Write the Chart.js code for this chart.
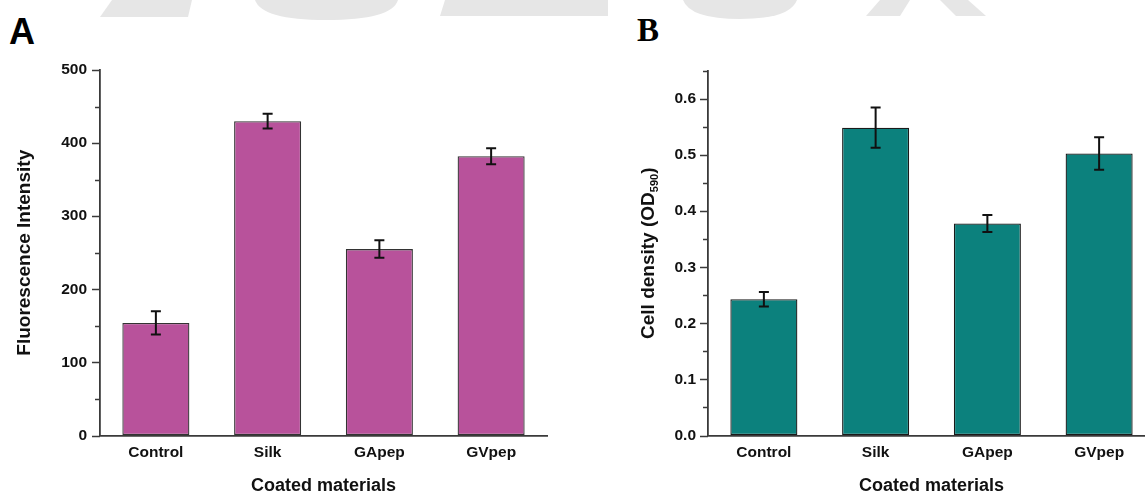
<!DOCTYPE html>
<html>
<head>
<meta charset="utf-8">
<script src="https://cdn.jsdelivr.net/npm/chart.js@4.4.1/dist/chart.umd.min.js"></script>
<style>
  html, body { margin: 0; padding: 0; background: #fff; overflow: hidden; width: 1145px; height: 495px; }
  .panel { position: absolute; top: 0; }
  .letter { position: absolute; color: #000; font-weight: bold; }
  #wm { position: absolute; left: 0; top: 0; }
</style>
</head>
<body>
<svg id="wm" width="1145" height="22">
  <!-- faint watermark remains along the top edge -->
  <g fill="#e6e6e6">
    <polygon points="112,0 192,0 188,17 100,17"/>
    <path d="M255,0 L398,0 Q392,20 326,20 Q262,20 255,0 Z"/>
    <polygon points="445,0 608,0 608,16 440,16"/>
    <path d="M683,0 L797,0 Q790,19 740,19 Q690,19 683,0 Z"/>
    <polygon points="880,0 910,0 900,16 866,16"/>
    <polygon points="940,0 968,0 986,16 956,16"/>
  </g>
</svg>
<div class="letter" style="left:9px; top:11px; font-family:'Liberation Sans', Arial, sans-serif; font-size:36px;">A</div>
<div class="letter" style="left:637px; top:12px; font-family:'Liberation Serif', 'Times New Roman', serif; font-size:33px;">B</div>
<canvas class="panel" id="chartA" width="560" height="495" style="left:0px;"></canvas>
<canvas class="panel" id="chartB" width="570" height="495" style="left:600px;"></canvas>
<script>
const categories = ["Control", "Silk", "GApep", "GVpep"];

// panel A: fluorescence intensity
const fluorescence = [154, 430, 255, 382];
const fluorescenceErr = [16, 10, 12, 11];

// panel B: cell density (OD590)
const cellDensity = [0.243, 0.549, 0.378, 0.503];
const cellDensityErr = [0.013, 0.036, 0.015, 0.029];

const FONT = "'Liberation Sans', Arial, sans-serif";
const AXIS = "#3a3a3a";

// error bars drawn from the bar values through the y scale
const errorBars = {
  id: "errorBars",
  afterDatasetsDraw(chart, args, opts) {
    const ctx = chart.ctx;
    const yScale = chart.scales.y;
    const values = chart.data.datasets[0].data;
    ctx.save();
    ctx.strokeStyle = "#111";
    ctx.lineWidth = 2;
    chart.getDatasetMeta(0).data.forEach((bar, i) => {
      const top = yScale.getPixelForValue(values[i] + opts.errors[i]);
      const bottom = yScale.getPixelForValue(values[i] - opts.errors[i]);
      ctx.beginPath();
      ctx.moveTo(bar.x, top);
      ctx.lineTo(bar.x, bottom);
      ctx.moveTo(bar.x - 5, top);
      ctx.lineTo(bar.x + 5, top);
      ctx.moveTo(bar.x - 5, bottom);
      ctx.lineTo(bar.x + 5, bottom);
      ctx.stroke();
    });
    ctx.restore();
  },
};

// outward major / minor tick marks on the y axis
const yTickMarks = {
  id: "yTickMarks",
  afterDraw(chart, args, opts) {
    const ctx = chart.ctx;
    const yScale = chart.scales.y;
    const x = chart.chartArea.left;
    ctx.save();
    ctx.strokeStyle = AXIS;
    ctx.lineWidth = 1.5;
    yScale.ticks.forEach((t) => {
      const major = Math.abs(t.value / opts.major - Math.round(t.value / opts.major)) < 1e-6;
      const len = major ? 8 : 5;
      const y = Math.round(yScale.getPixelForValue(t.value)) + 0.5;
      ctx.beginPath();
      ctx.moveTo(x - len, y);
      ctx.lineTo(x, y);
      ctx.stroke();
    });
    ctx.restore();
  },
};

// y title with a subscript, for panel B
const subTitle = {
  id: "subTitle",
  afterDraw(chart, args, opts) {
    if (!opts.text) return;
    const ctx = chart.ctx;
    const area = chart.chartArea;
    const big = "bold 19px " + FONT;
    const small = "bold 11px " + FONT;
    ctx.save();
    ctx.font = big;
    const w1 = ctx.measureText(opts.text).width;
    const w3 = ctx.measureText(")").width;
    ctx.font = small;
    const w2 = ctx.measureText(opts.sub).width;
    const total = w1 + w2 + w3;
    ctx.translate(opts.x, (area.top + area.bottom) / 2);
    ctx.rotate(-Math.PI / 2);
    ctx.fillStyle = "#111";
    ctx.textBaseline = "alphabetic";
    ctx.textAlign = "left";
    let pos = -total / 2;
    ctx.font = big;
    ctx.fillText(opts.text, pos, 7);
    pos += w1;
    ctx.font = small;
    ctx.fillText(opts.sub, pos, 11);
    pos += w2;
    ctx.font = big;
    ctx.fillText(")", pos, 7);
    ctx.restore();
  },
};

function makeChart(id, values, errors, opts) {
  return new Chart(document.getElementById(id), {
    type: "bar",
    plugins: [errorBars, yTickMarks, subTitle],
    data: {
      labels: categories,
      datasets: [
        {
          data: values,
          backgroundColor: opts.color,
          borderColor: opts.border,
          borderWidth: 1.3,
          borderSkipped: false,
          barPercentage: 0.6,
          categoryPercentage: 1,
        },
      ],
    },
    options: {
      responsive: false,
      animation: false,
      layout: { padding: { top: opts.top, right: opts.right, bottom: 0, left: 0 } },
      plugins: {
        legend: { display: false },
        tooltip: { enabled: false },
        errorBars: { errors: errors },
        yTickMarks: { major: opts.major },
        subTitle: opts.subTitle || {},
      },
      scales: {
        x: {
          afterFit: (scale) => { scale.height = 59.5; },
          grid: { display: true, drawOnChartArea: false, drawTicks: false },
          border: { display: true, color: AXIS, width: 1.8 },
          ticks: { color: "#111", padding: 8, font: { family: FONT, size: 15.5, weight: "bold" } },
          title: {
            display: true,
            text: "Coated materials",
            color: "#111",
            padding: { top: 0, bottom: 0 },
            font: { family: FONT, size: 18, weight: "bold", lineHeight: 1 },
          },
        },
        y: {
          min: 0,
          max: opts.max,
          afterFit: (scale) => { scale.width = opts.axisWidth; },
          grid: { display: true, drawOnChartArea: false, drawTicks: false },
          border: { display: true, color: AXIS, width: 1.8 },
          ticks: {
            stepSize: opts.minor,
            color: "#111",
            padding: opts.tickPad,
            font: { family: FONT, size: 15.5, weight: "bold" },
            callback: (v) => {
              const r = v / opts.major;
              if (Math.abs(r - Math.round(r)) > 1e-6) return "";
              return opts.decimals ? Number(v).toFixed(opts.decimals) : String(Math.round(v));
            },
          },
          title: {
            display: !!opts.yTitle,
            text: opts.yTitle || "",
            color: "#111",
            padding: { top: 15.5, bottom: 0 },
            font: { family: FONT, size: 19, weight: "bold", lineHeight: 1 },
          },
        },
      },
    },
  });
}

makeChart("chartA", fluorescence, fluorescenceErr, {
  color: "#b8529b",
  border: "#333333",
  top: 70,
  right: 13,
  max: 500,
  major: 100,
  minor: 50,
  decimals: 0,
  axisWidth: 100,
  tickPad: 13,
  yTitle: "Fluorescence Intensity",
});

makeChart("chartB", cellDensity, cellDensityErr, {
  color: "#0c817d",
  border: "#1a1a1a",
  top: 71,
  right: 15,
  max: 0.65,
  major: 0.1,
  minor: 0.05,
  decimals: 1,
  axisWidth: 108,
  tickPad: 12,
  subTitle: { text: "Cell density (OD", sub: "590", x: 47 },
});
</script>
</body>
</html>
